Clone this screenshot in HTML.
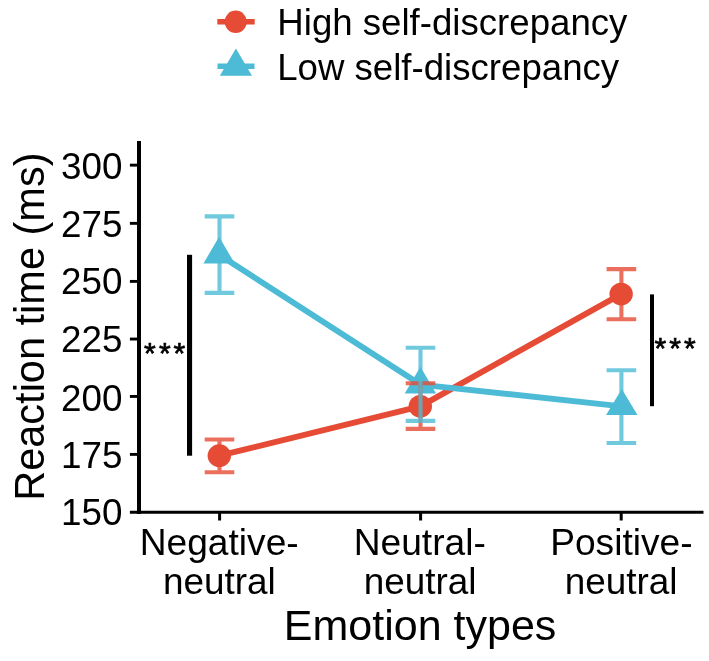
<!DOCTYPE html>
<html><head><meta charset="utf-8"><style>
html,body{margin:0;padding:0;background:#fff;}
svg{display:block;filter:blur(0.35px);font-family:"Liberation Sans",sans-serif;}
</style></head><body>
<svg width="709" height="661" viewBox="0 0 709 661">
<rect width="709" height="661" fill="#fff"/>
<g stroke="#000" fill="none">
<line x1="139.0" y1="140.9" x2="139.0" y2="513.9" stroke-width="4.0"/>
<line x1="129.9" y1="512.3" x2="703.5" y2="512.3" stroke-width="3.05"/>
<line x1="129.9" y1="454.40" x2="139" y2="454.40" stroke-width="2.9"/>
<line x1="129.9" y1="396.45" x2="139" y2="396.45" stroke-width="2.9"/>
<line x1="129.9" y1="339.05" x2="139" y2="339.05" stroke-width="2.9"/>
<line x1="129.9" y1="281.40" x2="139" y2="281.40" stroke-width="2.9"/>
<line x1="129.9" y1="223.35" x2="139" y2="223.35" stroke-width="2.9"/>
<line x1="129.9" y1="165.15" x2="139" y2="165.15" stroke-width="2.9"/>
<line x1="219.6" y1="512" x2="219.6" y2="520.5" stroke-width="3.0"/>
<line x1="420.6" y1="512" x2="420.6" y2="520.5" stroke-width="3.0"/>
<line x1="621.2" y1="512" x2="621.2" y2="520.5" stroke-width="3.0"/>
</g>
<g font-size="36.8" text-anchor="end" fill="#000">
<text x="122.4" y="524.8">150</text>
<text x="122.4" y="468.1">175</text>
<text x="122.4" y="410.6">200</text>
<text x="122.4" y="352.1">225</text>
<text x="122.4" y="294.1">250</text>
<text x="122.4" y="236.8">275</text>
<text x="122.4" y="178.7">300</text>
</g>
<g font-size="36.9" text-anchor="middle" fill="#000">
<text x="219.2" y="555.0" font-size="37.15">Negative-</text><text x="219.4" y="593.6">neutral</text>
<text x="419.8" y="555.0" font-size="37.15">Neutral-</text><text x="420.1" y="593.6">neutral</text>
<text x="621.4" y="555.0" font-size="37.15">Positive-</text><text x="621.1" y="593.6">neutral</text>
</g>
<text x="420.1" y="640.0" font-size="43" text-anchor="middle">Emotion types</text>
<text transform="translate(43.8,500.80) rotate(-90) scale(0.977,1)" font-size="42.5">Reaction time (ms)</text>
<polyline fill="none" stroke="#E64B35" stroke-width="5.9" stroke-linejoin="round" points="219.3,455.7 420.3,406.3 621.15,294.05"/>
<polyline fill="none" stroke="#4DBBD5" stroke-width="5.9" stroke-linejoin="round" points="219.1,254.67 420.4,384.60 621.8,406.33"/>
<g fill="#E64B35"><ellipse cx="219.3" cy="455.7" rx="11.7" ry="11.4"/><ellipse cx="420.3" cy="406.3" rx="11.7" ry="11.4"/><ellipse cx="621.15" cy="294.05" rx="11.7" ry="11.4"/></g>
<g fill="#4DBBD5"><polygon points="219.1,236.8 234.79999999999998,263.6 203.4,263.6"/><polygon points="420.4,366.8 436.09999999999997,393.5 404.7,393.5"/><polygon points="621.8,389.0 637.5,415.0 606.0999999999999,415.0"/></g>
<path d="M204.7,439.55 H234.3 M219.5,439.55 V472.2 M204.7,472.2 H234.3" stroke="#E64B35" stroke-opacity="0.8" stroke-width="4.1" fill="none"/>
<path d="M405.7,383.3 H435.3 M420.5,383.3 V428.85 M405.7,428.85 H435.3" stroke="#E64B35" stroke-opacity="0.8" stroke-width="4.1" fill="none"/>
<path d="M606.6,269.1 H636.1999999999999 M621.4,269.1 V319.25 M606.6,319.25 H636.1999999999999" stroke="#E64B35" stroke-opacity="0.8" stroke-width="4.1" fill="none"/>
<path d="M204.7,216.4 H234.3 M219.5,216.4 V292.9 M204.7,292.9 H234.3" stroke="#4DBBD5" stroke-opacity="0.8" stroke-width="4.1" fill="none"/>
<path d="M405.7,347.7 H435.3 M420.5,347.7 V420.85 M405.7,420.85 H435.3" stroke="#4DBBD5" stroke-opacity="0.8" stroke-width="4.1" fill="none"/>
<path d="M606.6,370.3 H636.1999999999999 M621.4,370.3 V443.0 M606.6,443.0 H636.1999999999999" stroke="#4DBBD5" stroke-opacity="0.8" stroke-width="4.1" fill="none"/>
<rect x="187.0" y="254.8" width="5.1" height="200.9" fill="#000"/>
<rect x="650.0" y="294.4" width="4.0" height="111.8" fill="#000"/>
<text x="144.08" y="363.14" font-size="30.0" stroke="#000" stroke-width="0.7">*</text>
<text x="158.88" y="363.14" font-size="30.0" stroke="#000" stroke-width="0.7">*</text>
<text x="173.58" y="363.14" font-size="30.0" stroke="#000" stroke-width="0.7">*</text>
<text x="654.58" y="357.95" font-size="30.0" stroke="#000" stroke-width="0.7">*</text>
<text x="669.18" y="357.95" font-size="30.0" stroke="#000" stroke-width="0.7">*</text>
<text x="684.08" y="357.95" font-size="30.0" stroke="#000" stroke-width="0.7">*</text>
<line x1="217.3" y1="21.75" x2="254.7" y2="21.75" stroke="#E64B35" stroke-width="5.5"/>
<ellipse cx="235.7" cy="21.8" rx="11.0" ry="11.2" fill="#E64B35"/>
<line x1="217.5" y1="66.2" x2="254.5" y2="66.2" stroke="#4DBBD5" stroke-width="5.6"/>
<polygon fill="#4DBBD5" points="235.9,48.5 252.0,75.7 219.8,75.7"/>
<text x="277.3" y="35.2" font-size="36.64">High self-discrepancy</text>
<text x="277.2" y="79.8" font-size="36.64">Low self-discrepancy</text>
</svg></body></html>
